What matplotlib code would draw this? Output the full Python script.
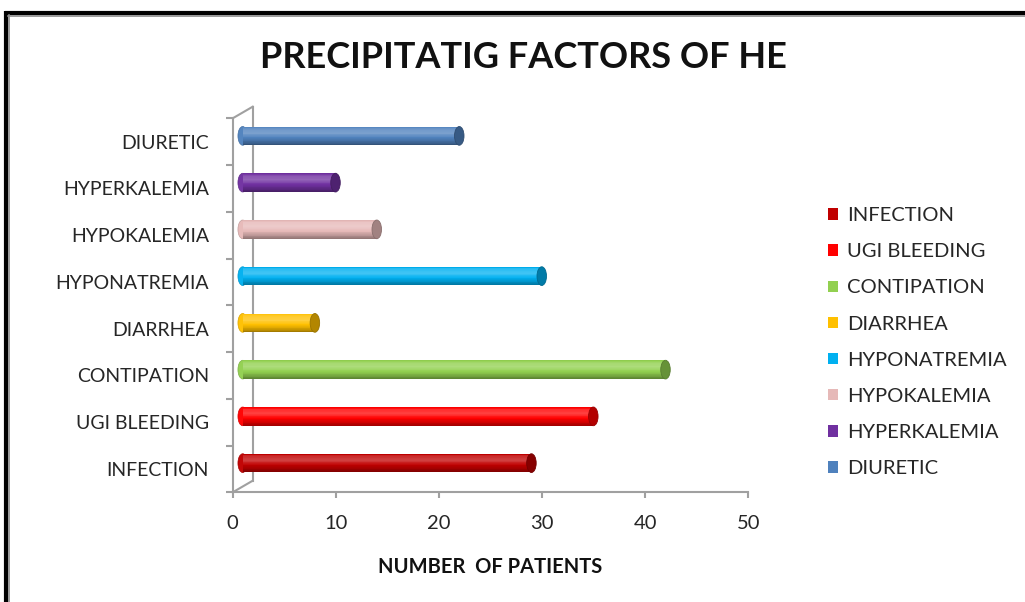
import matplotlib as mpl
import matplotlib.pyplot as plt
import numpy as np
from matplotlib.patches import Ellipse, Patch
from matplotlib.lines import Line2D
from matplotlib.colors import to_rgb
import matplotlib.transforms as mtransforms
mpl.use('Agg')

plt.rcParams['font.family'] = ['Lato', 'DejaVu Sans']

# data
factors = ['INFECTION', 'UGI BLEEDING', 'CONTIPATION', 'DIARRHEA',
           'HYPONATREMIA', 'HYPOKALEMIA', 'HYPERKALEMIA', 'DIURETIC']
patients = [28, 34, 41, 7, 29, 13, 9, 21]
colors = ['#c00000', '#ff0000', '#92d050', '#ffc000',
          '#00b0f0', '#e6b9b8', '#7030a0', '#4f81bd']
xticks = [0, 10, 20, 30, 40, 50]

W, H = 1025, 602
fig = plt.figure(figsize=(W / 100, H / 100), dpi=100)

# outer frame (only top and left edges show)
def px_line(xs, ys, **kw):
    fig.add_artist(Line2D([x / W for x in xs], [1 - y / H for y in ys],
                          transform=fig.transFigure, **kw))

px_line([5, W + 5], [12.5, 12.5], color='black', lw=3.0, solid_capstyle='butt')
px_line([5.5, 5.5], [11, H + 5], color='black', lw=3.0, solid_capstyle='butt')
px_line([8, W + 5], [15.5, 15.5], color='#8a8a8a', lw=1.2)
px_line([8.5, 8.5], [15, H + 5], color='#8a8a8a', lw=1.2)

ax = fig.add_axes([232.7 / W, (H - 492.3) / H, 515.6 / W, 374 / H])
ax.set_xlim(0, 50)
ax.set_ylim(-0.5, 7.5)
for s in ['top', 'right']:
    ax.spines[s].set_visible(False)
for s in ['left', 'bottom']:
    ax.spines[s].set_color('#a0a0a0')
    ax.spines[s].set_linewidth(1.5)

ax.set_xticks(xticks)
ax.tick_params(axis='x', colors='#a0a0a0', length=4.5, width=1.5, pad=12,
               labelsize=14.5, labelcolor='#262626')
ax.set_yticks(range(len(factors)))
ax.set_yticklabels(factors)
ax.tick_params(axis='y', length=0, pad=17, labelsize=14, labelcolor='#262626')
ax.set_yticks(np.arange(-0.5, 8, 1), minor=True)
ax.tick_params(axis='y', which='minor', length=5, width=1.5, colors='#a0a0a0')
ax.set_xlabel('NUMBER  OF PATIENTS', fontsize=14.5, fontweight='bold',
              labelpad=18, color='#111111')

# depth of the 3D box, in pixels
depth_x, depth_y = 20, 11.6
back = mtransforms.offset_copy(ax.transData, fig, x=depth_x, y=depth_y, units='dots')
mid = mtransforms.offset_copy(ax.transData, fig, x=depth_x / 2, y=depth_y / 2, units='dots')

# back wall edge and the two slanted edges
ax.plot([0, 0], [-0.5, 7.5], color='#a0a0a0', lw=1.5, transform=back, clip_on=False)
for yy in (-0.5, 7.5):
    p0 = ax.transData.transform((0, yy))
    p1 = p0 + np.array([depth_x, depth_y])
    px_line([p0[0], p1[0]], [H - p0[1], H - p1[1]], color='#a0a0a0', lw=1.5)

# cylinder shading, top to bottom
knots_t = [0.0, 0.12, 0.35, 0.6, 0.85, 1.0]
knots_k = [0.95, 1.12, 1.18, 1.0, 0.78, 0.62]

def shade(c, k):
    c = np.array(to_rgb(c))
    if k >= 1:
        return c + (1 - c) * (k - 1) * 1.4
    return c * k

bar_h = 0.40
n_strips = 24
cap_w = 9.5 / (515.6 / 50)
for i, (v, c) in enumerate(zip(patients, colors)):
    ax.add_patch(Ellipse((0, i), cap_w, bar_h, facecolor=shade(c, 1.02),
                         edgecolor=shade(c, 0.85), lw=0.5, transform=mid,
                         clip_on=False, zorder=2))
    for j in range(n_strips):
        t = (j + 0.5) / n_strips
        k = np.interp(t, knots_t, knots_k)
        y = i + bar_h / 2 - (j + 0.5) * bar_h / n_strips
        ax.barh(y, v, height=bar_h / n_strips * 1.05, left=0,
                color=shade(c, k), transform=mid, clip_on=False, zorder=3)
    ax.add_patch(Ellipse((v, i), cap_w, bar_h, facecolor=shade(c, 0.7),
                         edgecolor=shade(c, 0.6), lw=0.6, transform=mid,
                         clip_on=False, zorder=4))

fig.text(523 / W, 1 - 57 / H, 'PRECIPITATIG FACTORS OF HE', ha='center', va='center',
         fontsize=26, fontweight='bold', color='#111111')

handles = [Patch(facecolor=c, edgecolor='none') for c in colors]
fig.legend(handles, factors, loc='upper left', bbox_to_anchor=(810 / W, 1 - 189 / H),
           frameon=False, fontsize=14.5, handlelength=0.5, handleheight=0.5,
           handletextpad=0.45, labelspacing=0.95, labelcolor='#262626')

plt.savefig('out.png', dpi=100)
